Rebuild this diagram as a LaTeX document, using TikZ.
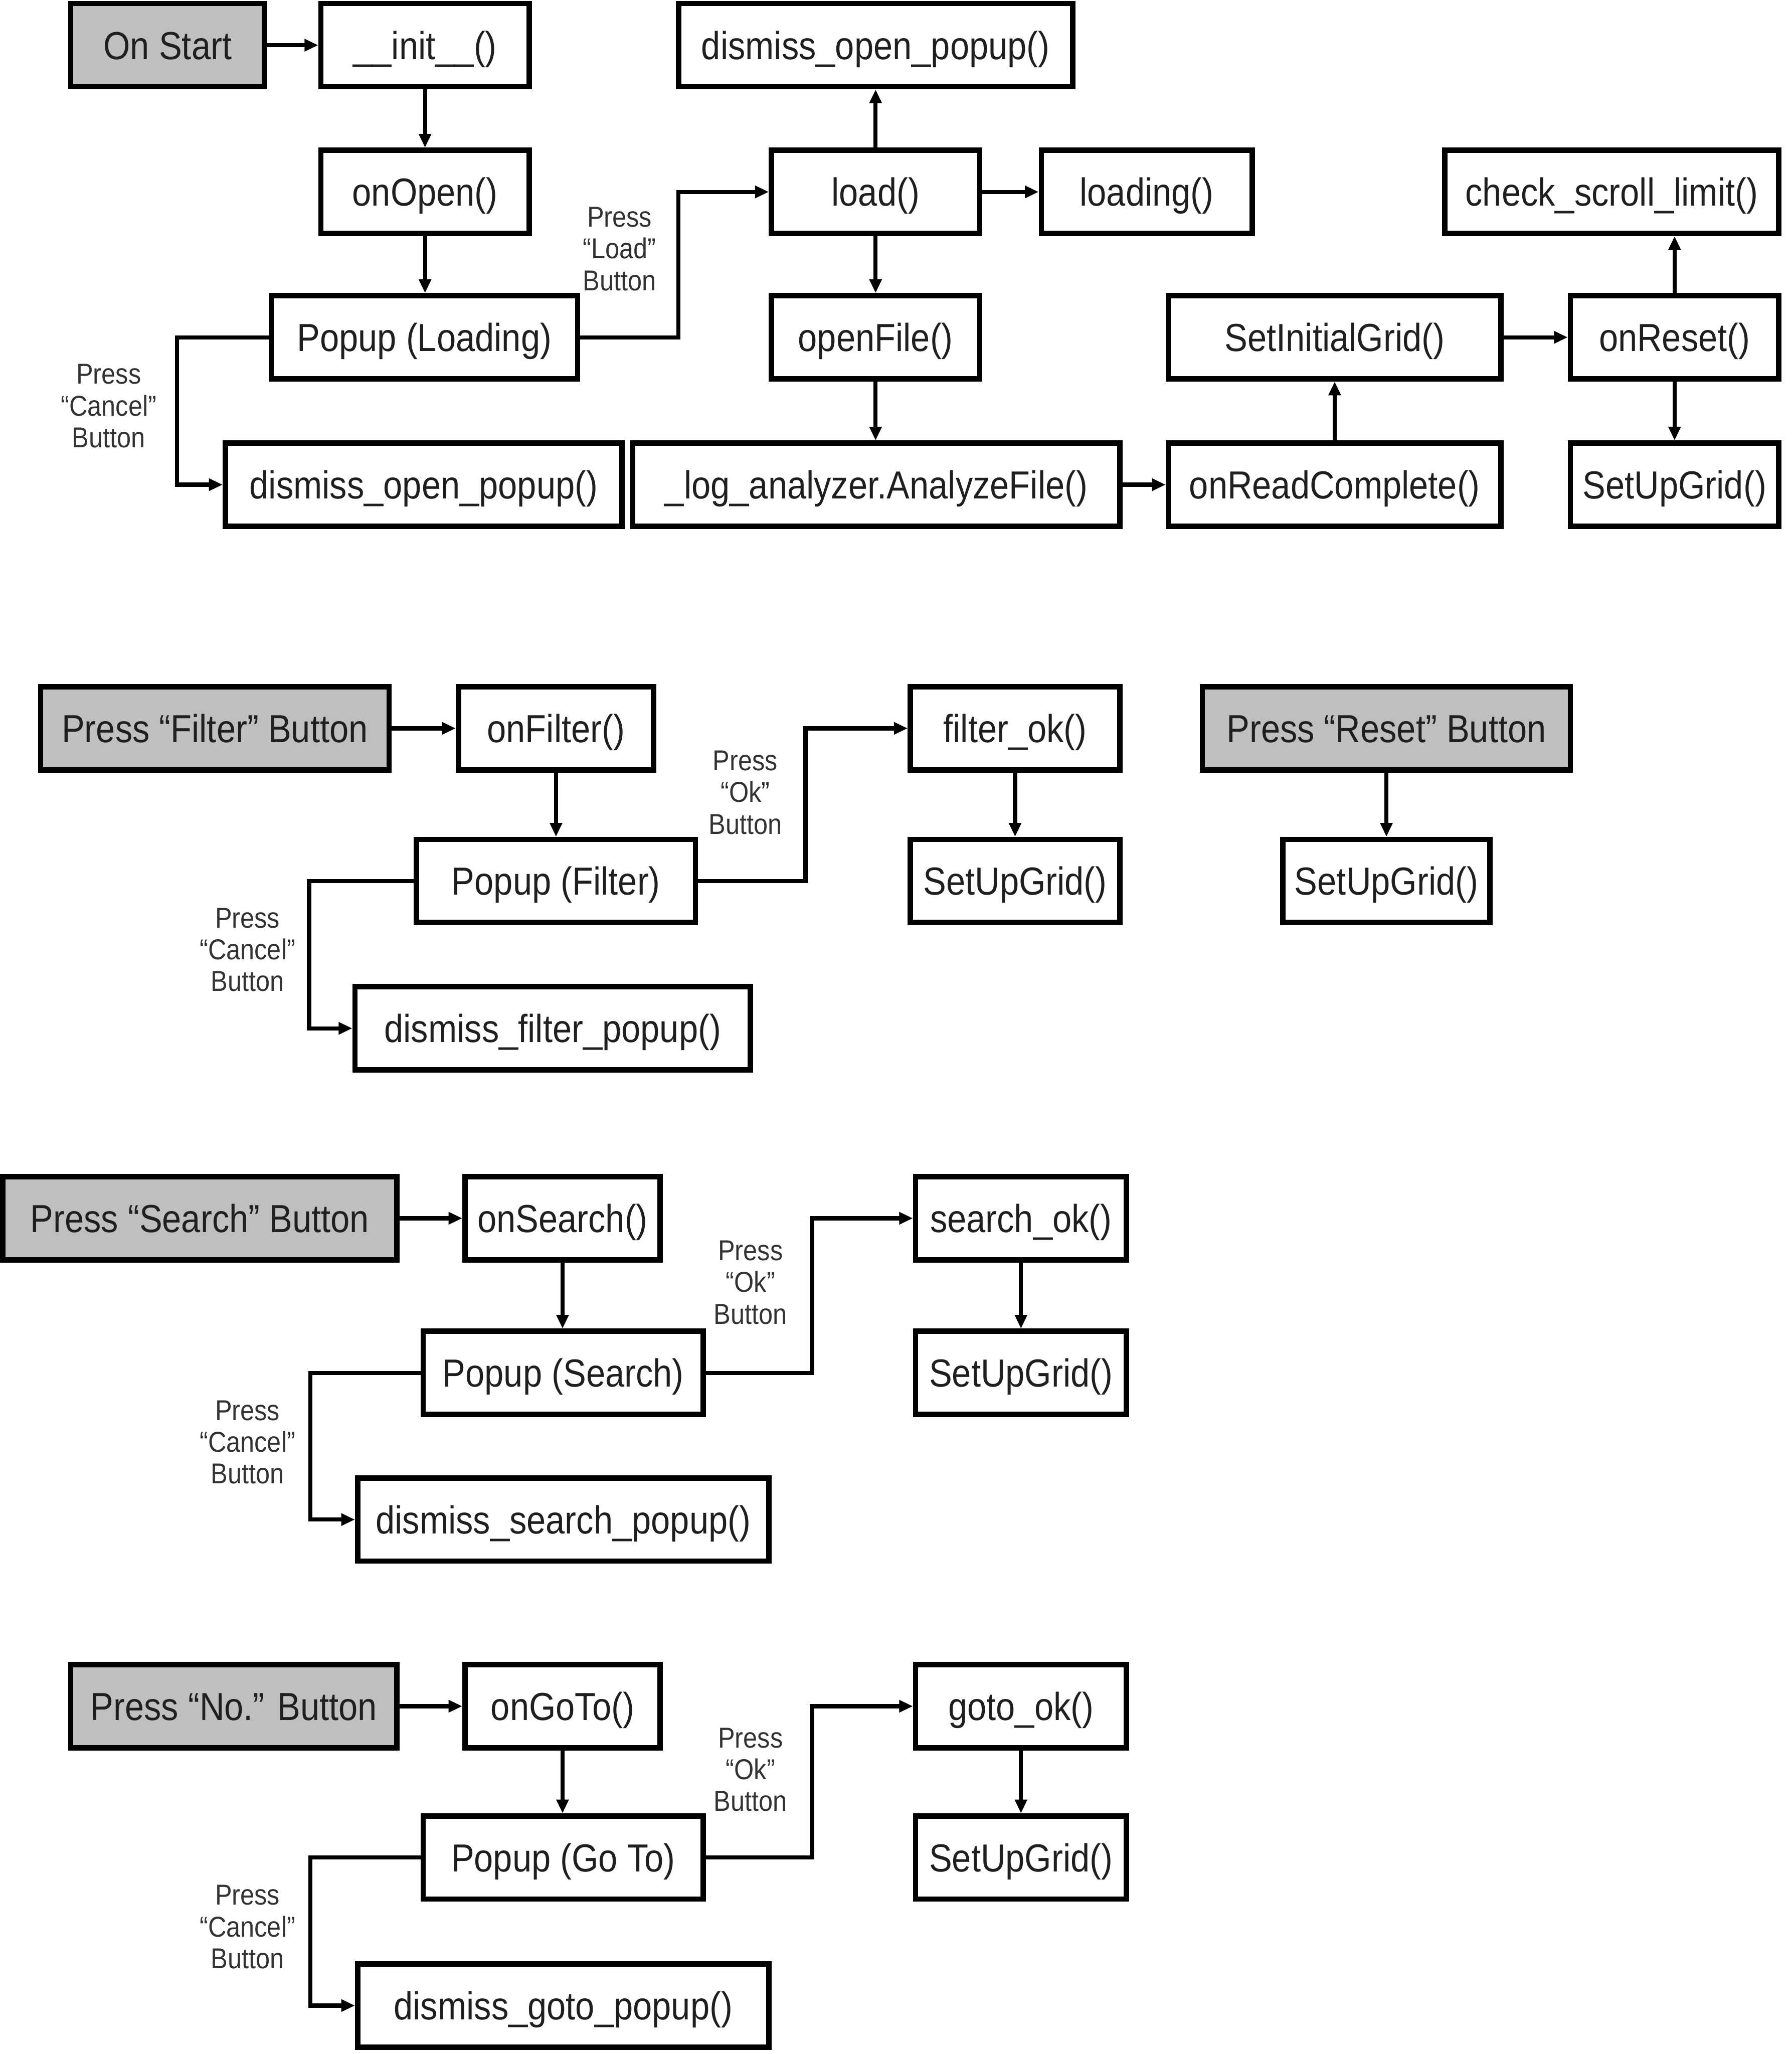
\documentclass[tikz,border=0pt]{standalone}
\usepackage{fontspec}
\setmainfont{Liberation Sans}[FakeStretch=0.88]
\usetikzlibrary{arrows.meta}

\begin{document}
\begin{tikzpicture}[x=0.02cm, y=-0.02cm,
    fn/.style={draw, line width=2.3pt, minimum height=1.27cm, inner sep=0pt,
      text height=15.3pt, text depth=3.1pt,
      text=black!88, font=\fontsize{17}{20}\selectfont},
    event/.style={fn, fill=black!25},
    arr/.style={line width=1.8pt, -{Triangle[length=0.21cm,width=0.18cm]}},
    lbl/.style={align=center, text=black!80, font=\fontsize{12.5}{13.8}\selectfont}]
  \useasboundingbox (0,0) rectangle (1368,1568);

  % on start
  \node[event, minimum width=2.96cm] (start) at (128,34.5) {On Start};
  \node[fn, minimum width=3.18cm] (init) at (324.5,34.5) {\_\_init\_\_()};
  \node[fn, minimum width=3.18cm] (onOpen) at (324.5,146.5) {onOpen()};
  \node[fn, minimum width=4.68cm] (popLoad) at (324,257.5) {Popup (Loading)};
  \node[fn, minimum width=6.06cm] (dismissOpenA) at (323.5,370) {dismiss\_open\_popup()};
  \node[fn, minimum width=6.02cm] (dismissOpenB) at (668.5,34.5) {dismiss\_open\_popup()};
  \node[fn, minimum width=3.18cm] (load) at (668.5,146.5) {load()};
  \node[fn, minimum width=3.22cm] (loading) at (875.5,146.5) {loading()};
  \node[fn, minimum width=3.18cm] (openFile) at (668.5,257.5) {openFile()};
  \node[fn, minimum width=7.44cm] (analyze) at (669,370) {\_log\_analyzer.AnalyzeFile()};
  \node[fn, minimum width=5.08cm] (readDone) at (1019,370) {onReadComplete()};
  \node[fn, minimum width=5.08cm] (initGrid) at (1019,257.5) {SetInitialGrid()};
  \node[fn, minimum width=3.18cm] (onReset) at (1278.5,257.5) {onReset()};
  \node[fn, minimum width=5.10cm] (checkScroll) at (1230.5,146.5) {check\_scroll\_limit()};
  \node[fn, minimum width=3.18cm] (gridA) at (1278.5,370) {SetUpGrid()};

  \draw[arr] (start) -- (init);
  \draw[arr] (init) -- (onOpen);
  \draw[arr] (onOpen.south) -- (onOpen.south |- popLoad.north);
  \draw[arr] (popLoad.east) -- ++(75,0) |- (load.west);
  \draw[arr] (popLoad.west) -- ++(-70,0) |- (dismissOpenA.west);
  \draw[arr] (load) -- (dismissOpenB);
  \draw[arr] (load) -- (loading);
  \draw[arr] (load) -- (openFile);
  \draw[arr] (openFile.south) -- (openFile.south |- analyze.north);
  \draw[arr] (analyze) -- (readDone);
  \draw[arr] (readDone) -- (initGrid);
  \draw[arr] (initGrid) -- (onReset);
  \draw[arr] (onReset.north) -- (onReset.north |- checkScroll.south);
  \draw[arr] (onReset) -- (gridA);
  \node[lbl] (lblLoad) at (473,190) {Press\\“Load”\\Button};
  \node[lbl] (lblCancelA) at (83,310) {Press\\“Cancel”\\Button};

  % filter
  \node[event, minimum width=5.32cm] (pressFilter) at (164,556) {Press “Filter” Button};
  \node[fn, minimum width=2.98cm] (onFilter) at (424.5,556) {onFilter()};
  \node[fn, minimum width=4.26cm] (popFilter) at (424.5,672.5) {Popup (Filter)};
  \node[fn, minimum width=6.04cm] (dismissFilter) at (422,785) {dismiss\_filter\_popup()};
  \node[fn, minimum width=3.20cm] (filterOk) at (775,556) {filter\_ok()};
  \node[fn, minimum width=3.20cm] (gridB) at (775,672.5) {SetUpGrid()};
  \node[event, minimum width=5.62cm] (pressReset) at (1058.5,556) {Press “Reset” Button};
  \node[fn, minimum width=3.16cm] (gridC) at (1058.5,672.5) {SetUpGrid()};

  \draw[arr] (pressFilter) -- (onFilter);
  \draw[arr] (onFilter) -- (popFilter);
  \draw[arr] (popFilter.east) -- ++(82,0) |- (filterOk.west);
  \draw[arr] (popFilter.west) -- ++(-80,0) |- (dismissFilter.west);
  \draw[arr] (filterOk) -- (gridB);
  \draw[arr] (pressReset) -- (gridC);
  \node[lbl] (lblOkB) at (569,605) {Press\\“Ok”\\Button};
  \node[lbl] (lblCancelB) at (189,725) {Press\\“Cancel”\\Button};

  % search
  \node[event, minimum width=6.02cm] (pressSearch) at (152.5,930) {Press “Search” Button};
  \node[fn, minimum width=2.98cm] (onSearch) at (429.5,930) {onSearch()};
  \node[fn, minimum width=4.28cm] (popSearch) at (430,1048) {Popup (Search)};
  \node[fn, minimum width=6.28cm] (dismissSearch) at (430,1160) {dismiss\_search\_popup()};
  \node[fn, minimum width=3.22cm] (searchOk) at (779.5,930) {search\_ok()};
  \node[fn, minimum width=3.22cm] (gridD) at (779.5,1048) {SetUpGrid()};

  \draw[arr] (pressSearch) -- (onSearch);
  \draw[arr] (onSearch.south) -- (onSearch.south |- popSearch.north);
  \draw[arr] (popSearch.east) -- ++(81,0) |- (searchOk.west);
  \draw[arr] (popSearch.west) -- ++(-84,0) |- (dismissSearch.west);
  \draw[arr] (searchOk) -- (gridD);
  \node[lbl] (lblOkC) at (573,979) {Press\\“Ok”\\Button};
  \node[lbl] (lblCancelC) at (189,1101) {Press\\“Cancel”\\Button};

  % go to
  \node[event, minimum width=4.98cm] (pressNo) at (178.5,1302.5) {Press “No.” Button};
  \node[fn, minimum width=2.98cm] (onGoTo) at (429.5,1302.5) {onGoTo()};
  \node[fn, minimum width=4.28cm] (popGoTo) at (430,1418) {Popup (Go To)};
  \node[fn, minimum width=6.28cm] (dismissGoto) at (430,1531) {dismiss\_goto\_popup()};
  \node[fn, minimum width=3.22cm] (gotoOk) at (779.5,1302.5) {goto\_ok()};
  \node[fn, minimum width=3.22cm] (gridE) at (779.5,1418) {SetUpGrid()};

  \draw[arr] (pressNo) -- (onGoTo);
  \draw[arr] (onGoTo.south) -- (onGoTo.south |- popGoTo.north);
  \draw[arr] (popGoTo.east) -- ++(81,0) |- (gotoOk.west);
  \draw[arr] (popGoTo.west) -- ++(-84,0) |- (dismissGoto.west);
  \draw[arr] (gotoOk) -- (gridE);
  \node[lbl] (lblOkD) at (573,1351) {Press\\“Ok”\\Button};
  \node[lbl] (lblCancelD) at (189,1471) {Press\\“Cancel”\\Button};
\end{tikzpicture}
\end{document}
